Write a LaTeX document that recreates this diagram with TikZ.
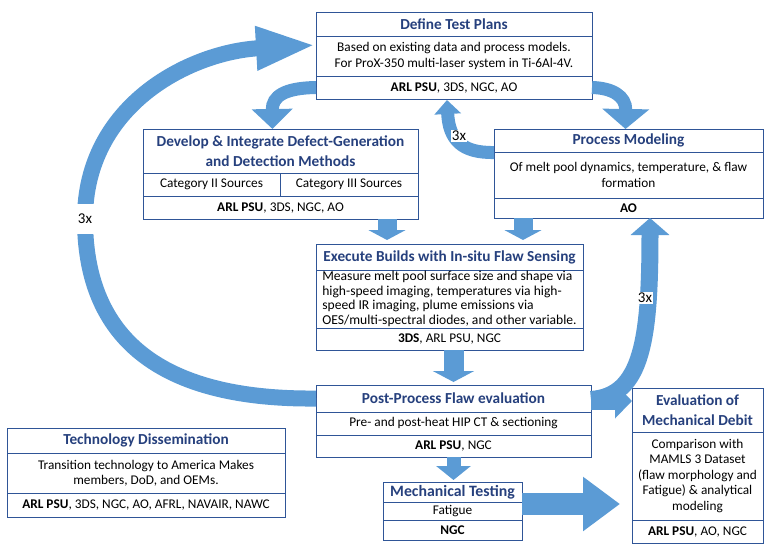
\documentclass[tikz,border=0pt]{standalone}
\usepackage{fontspec}
\setmainfont{Carlito}
\usetikzlibrary{positioning,arrows.meta}

\definecolor{flowblue}{RGB}{91,155,213}
\definecolor{framecol}{RGB}{47,85,151}
\definecolor{titleblue}{RGB}{38,64,125}

\tikzset{
	box/.style={draw=framecol, fill=white, inner sep=1pt, outer sep=0pt, align=center, font=\fontsize{13.3}{15.5}\selectfont},
	head/.style={box, text=titleblue, font=\fontsize{15.3}{19.5}\selectfont\bfseries},
	team/.style={box},
	flow/.style={draw=flowblue, line width=#1},
	flow/.default=14pt,
	times/.style={fill=white, inner sep=1pt, font=\fontsize{15}{17}\selectfont}
}

\begin{document}
\begin{tikzpicture}[x=1pt,y=-1pt]
	\useasboundingbox (0,0) rectangle (764,555);
	
	% Define Test Plans
	\node[head, minimum width=276pt, minimum height=24pt, anchor=north west] (dtp) at (316,12) {Define Test Plans};
	\node[box, minimum width=276pt, minimum height=40pt, below=0pt of dtp] (dtp-body) {Based on existing data and process models.\\For ProX-350 multi-laser system in Ti-6Al-4V.};
	\node[team, minimum width=276pt, minimum height=23pt, below=0pt of dtp-body] (dtp-team) {\textbf{ARL PSU}, 3DS, NGC, AO};
	
	% Develop & Integrate
	\node[head, minimum width=275pt, minimum height=44pt, anchor=north west] (dev) at (143,129) {Develop \& Integrate Defect-Generation\\and Detection Methods};
	\node[box, minimum width=137pt, minimum height=23pt, anchor=north west] (dev-c2) at (dev.south west) {Category II Sources};
	\node[box, minimum width=138pt, minimum height=23pt, right=0pt of dev-c2] (dev-c3) {Category III Sources};
	\node[team, minimum width=275pt, minimum height=23pt, anchor=north west] (dev-team) at (dev-c2.south west) {\textbf{ARL PSU}, 3DS, NGC, AO};
	
	% Process Modeling
	\node[head, minimum width=269pt, minimum height=23pt, anchor=north west] (pm) at (494,129) {Process Modeling};
	\node[box, minimum width=269pt, minimum height=46pt, below=0pt of pm] (pm-body) {Of melt pool dynamics, temperature, \& flaw\\formation};
	\node[team, minimum width=269pt, minimum height=20pt, below=0pt of pm-body] (pm-team) {\textbf{AO}};
	
	% Execute Builds
	\node[head, minimum width=267pt, minimum height=26pt, anchor=north west] (exe) at (316,244) {Execute Builds with In-situ Flaw Sensing};
	\node[box, font=\fontsize{13.6}{14.5}\selectfont, align=left, minimum width=267pt, minimum height=58pt, below=0pt of exe] (exe-body) {Measure melt pool surface size and shape via\\high-speed imaging, temperatures via high-\\speed IR imaging, plume emissions via\\OES/multi-spectral diodes, and other variable.};
	\node[team, minimum width=267pt, minimum height=22pt, below=0pt of exe-body] (exe-team) {\textbf{3DS}, ARL PSU, NGC};
	
	% Post-Process
	\node[head, minimum width=275pt, minimum height=27pt, anchor=north west] (ppf) at (316,385) {Post-Process Flaw evaluation};
	\node[box, minimum width=275pt, minimum height=23pt, below=0pt of ppf] (ppf-body) {Pre- and post-heat HIP CT \& sectioning};
	\node[team, minimum width=275pt, minimum height=22pt, below=0pt of ppf-body] (ppf-team) {\textbf{ARL PSU}, NGC};
	
	% Evaluation of Mechanical Debit
	\node[head, minimum width=131pt, minimum height=44pt, anchor=north west] (emd) at (632,388) {Evaluation of\\Mechanical Debit};
	\node[box, minimum width=131pt, minimum height=88pt, below=0pt of emd] (emd-body) {Comparison with\\MAMLS 3 Dataset\\(flaw morphology and\\Fatigue) \& analytical\\modeling};
	\node[team, minimum width=131pt, minimum height=23pt, below=0pt of emd-body] (emd-team) {\textbf{ARL PSU}, AO, NGC};
	
	% Technology Dissemination
	\node[head, minimum width=278pt, minimum height=25pt, anchor=north west] (tds) at (7,428) {Technology Dissemination};
	\node[box, minimum width=278pt, minimum height=40pt, below=0pt of tds] (tds-body) {Transition technology to America Makes\\members, DoD, and OEMs.};
	\node[team, minimum width=278pt, minimum height=24pt, below=0pt of tds-body] (tds-team) {\textbf{ARL PSU}, 3DS, NGC, AO, AFRL, NAVAIR, NAWC};
	
	% Mechanical Testing
	\node[head, font=\fontsize{15.8}{18}\selectfont\bfseries, minimum width=139pt, minimum height=20pt, anchor=north west] (mt) at (383,482) {Mechanical Testing};
	\node[box, minimum width=139pt, minimum height=18pt, below=0pt of mt] (mt-body) {Fatigue};
	\node[team, minimum width=139pt, minimum height=20pt, below=0pt of mt-body] (mt-team) {\textbf{NGC}};
	
	% big loop back to the test plans
	\draw[flow=16pt, -{Triangle[length=60pt,width=40pt]}] (ppf.west) .. controls (150,400) and (85,330) .. (85,219) .. controls (85,105) and (190,52) .. ([yshift=11pt]dtp-body.west);
	\node[times, minimum width=20pt, minimum height=30pt] (loop-a) at (85,219) {3x};
	
	% around the test plans
	\draw[flow=13pt, -{Triangle[length=20pt,width=40pt]}] (dtp-team.west) .. controls (285,88) and (272,96) .. ([xshift=-8pt]dev.north);
	\draw[flow=13pt, -{Triangle[length=20pt,width=46pt]}] (dtp-team.east) .. controls (612,88) and (626,96) .. ([xshift=-3pt]pm.north);
	\draw[flow=13pt, -{Triangle[length=14pt,width=26pt]}] ([yshift=-12pt]pm.west) .. controls (462,153) and (449,140) .. ([xshift=-7pt,yshift=-1pt]dtp-team.south);
	\node[times] (loop-b) at (459,136) {3x};
	
	% down to the builds
	\draw[flow=19pt, -{Triangle[length=10pt,width=37pt]}] ([xshift=106.5pt]dev-team.south) -- ([xshift=-62.5pt,yshift=4pt]exe.north);
	\draw[flow=19pt, -{Triangle[length=10pt,width=37pt]}] ([xshift=-105.5pt]pm-team.south) -- ([xshift=73.5pt,yshift=4pt]exe.north);
	\draw[flow=20pt, -{Triangle[length=11pt,width=41pt]}] (exe-team.south -| ppf.north) -- ([yshift=3pt]ppf.north);
	\draw[flow=14pt, -{Triangle[length=14pt,width=34pt]}] (ppf-team.south) -- ([yshift=2pt]ppf-team.south |- mt.north);
	
	% to the evaluation
	\draw[flow=22pt, -{Triangle[length=37pt,width=52pt]}] ([yshift=7pt]mt-body.east) -- ([xshift=-12pt,yshift=-28pt]emd-body.west);
	\draw[flow=17pt, -{Triangle[length=17pt,width=34pt]}] ([yshift=-2.5pt]ppf.east) -- ([yshift=9pt]emd.west);
	\draw[flow=17pt, -{Triangle[length=17pt,width=38pt]}] ([yshift=-1pt]ppf.east) .. controls (642,396) and (650,340) .. ([xshift=21.5pt]pm-team.south);
	\node[times] (loop-c) at (645,298) {3x};
\end{tikzpicture}
\end{document}
